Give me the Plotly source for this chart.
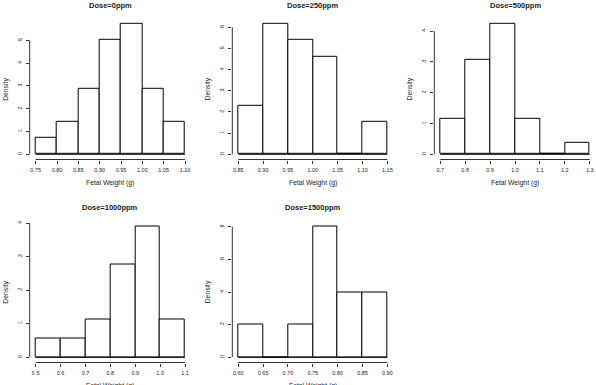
import plotly.graph_objects as go

W, H = 596, 385

# ---- data (density histograms of fetal weight by dose) ----
titles = ["Dose=0ppm", "Dose=250ppm", "Dose=500ppm", "Dose=1000ppm", "Dose=1500ppm"]

breaks_0 = [0.75, 0.80, 0.85, 0.90, 0.95, 1.00, 1.05, 1.10]
dens_0 = [0.714, 1.429, 2.857, 5.000, 5.714, 2.857, 1.429]

breaks_250 = [0.85, 0.90, 0.95, 1.00, 1.05, 1.10, 1.15]
dens_250 = [2.308, 6.154, 5.385, 4.615, 0.0, 1.538]

breaks_500 = [0.7, 0.8, 0.9, 1.0, 1.1, 1.2, 1.3]
dens_500 = [1.154, 3.077, 4.231, 1.154, 0.0, 0.385]

breaks_1000 = [0.5, 0.6, 0.7, 0.8, 0.9, 1.0, 1.1]
dens_1000 = [0.556, 0.556, 1.111, 2.778, 3.889, 1.111]

breaks_1500 = [0.60, 0.65, 0.70, 0.75, 0.80, 0.85, 0.90]
dens_1500 = [2.0, 0.0, 2.0, 8.0, 4.0, 4.0]

xticks_0 = ["0.75", "0.80", "0.85", "0.90", "0.95", "1.00", "1.05", "1.10"]
xticks_250 = ["0.85", "0.90", "0.95", "1.00", "1.05", "1.10", "1.15"]
xticks_500 = ["0.7", "0.8", "0.9", "1.0", "1.1", "1.2", "1.3"]
xticks_1000 = ["0.5", "0.6", "0.7", "0.8", "0.9", "1.0", "1.1"]
xticks_1500 = ["0.60", "0.65", "0.70", "0.75", "0.80", "0.85", "0.90"]

yticks_0 = [0, 1, 2, 3, 4, 5]
yticks_250 = [0, 1, 2, 3, 4, 5, 6]
yticks_500 = [0, 1, 2, 3, 4]
yticks_1000 = [0, 1, 2, 3, 4]
yticks_1500 = [0, 2, 4, 6, 8]

x_label = "Fetal Weight (g)"
y_label = "Density"

panels = [
    (breaks_0, dens_0, xticks_0, yticks_0),
    (breaks_250, dens_250, xticks_250, yticks_250),
    (breaks_500, dens_500, xticks_500, yticks_500),
    (breaks_1000, dens_1000, xticks_1000, yticks_1000),
    (breaks_1500, dens_1500, xticks_1500, yticks_1500),
]

# ---- layout (pixel plot regions) ----
col_px = [(29.7, 191.0), (232.3, 393.3), (434.3, 595.7)]
row_px = [(18.8, 159.5), (221.5, 362.5)]

FONT = "Liberation Sans, Arial, Helvetica, sans-serif"
TXT = "#222222"
AX = "#333333"

fig = go.Figure()
shapes = []
annotations = []

for i, (brk, dens, xt, yt) in enumerate(panels):
    r, c = divmod(i, 3)
    n = i + 1
    xa = "x" if n == 1 else f"x{n}"
    ya = "y" if n == 1 else f"y{n}"
    xkey = "xaxis" if n == 1 else f"xaxis{n}"
    ykey = "yaxis" if n == 1 else f"yaxis{n}"

    left, right = col_px[c]
    top, bot = row_px[r]
    xdom = [left / W, right / W]
    ydom = [1 - bot / H, 1 - top / H]

    centers = [(brk[k] + brk[k + 1]) / 2 for k in range(len(dens))]
    widths = [brk[k + 1] - brk[k] for k in range(len(dens))]

    fig.add_trace(go.Bar(
        x=centers, y=dens, width=widths,
        marker=dict(color="white", line=dict(color="black", width=1)),
        xaxis=xa, yaxis=ya, showlegend=False, hoverinfo="x+y",
    ))

    x0, x1 = brk[0], brk[-1]
    xpad = 0.04 * (x1 - x0)
    ymax = max(dens)
    ypad = 0.04 * ymax
    xvals = [float(v) for v in xt]

    fig.layout[xkey] = dict(
        domain=xdom, range=[x0 - xpad, x1 + xpad], anchor=ya,
        tickmode="array", tickvals=xvals, ticktext=xt,
        ticks="outside", ticklen=3, tickwidth=1, tickcolor=AX,
        showline=False, showgrid=False, zeroline=False,
        tickfont=dict(family=FONT, size=5.5, color=TXT),
        ticklabelstandoff=2,
    )
    fig.layout[ykey] = dict(
        domain=ydom, range=[-ypad, ymax + ypad], anchor=xa,
        tickmode="array", tickvals=yt, ticktext=[str(v) for v in yt],
        ticks="outside", ticklen=3, tickwidth=1, tickcolor=AX,
        showline=False, showgrid=False, zeroline=False,
        tickangle=-90,
        tickfont=dict(family=FONT, size=5.5, color=TXT),
        ticklabelstandoff=2,
    )

    # R-style axis lines spanning first..last tick
    shapes.append(dict(type="line", xref=xa, yref=f"{ya} domain",
                       x0=xvals[0], x1=xvals[-1], y0=0, y1=0,
                       line=dict(color=AX, width=1)))
    shapes.append(dict(type="line", xref=f"{xa} domain", yref=ya,
                       x0=0, x1=0, y0=yt[0], y1=yt[-1],
                       line=dict(color=AX, width=1)))
    # histogram baseline (zero-height bins)
    shapes.append(dict(type="line", xref=xa, yref=ya,
                       x0=x0, x1=x1, y0=0, y1=0,
                       line=dict(color="black", width=1)))

    cx = (left + right) / 2 / W
    annotations.append(dict(text=f"<b>{titles[i]}</b>", x=cx, y=1 - (top - 13.5) / H,
                            xref="paper", yref="paper", showarrow=False,
                            xanchor="center", yanchor="middle",
                            font=dict(family=FONT, size=7.5, color=TXT)))
    annotations.append(dict(text=x_label, x=cx, y=1 - (bot + 23.8) / H,
                            xref="paper", yref="paper", showarrow=False,
                            xanchor="center", yanchor="middle",
                            font=dict(family=FONT, size=6.8, color=TXT)))
    annotations.append(dict(text=y_label, x=(left - 24) / W, y=1 - (top + bot) / 2 / H,
                            xref="paper", yref="paper", showarrow=False,
                            textangle=-90, xanchor="center", yanchor="middle",
                            font=dict(family=FONT, size=6.8, color=TXT)))

fig.update_layout(
    width=W, height=H,
    margin=dict(l=0, r=0, t=0, b=0),
    paper_bgcolor="white", plot_bgcolor="white",
    bargap=0, barmode="overlay",
    shapes=shapes, annotations=annotations,
    font=dict(family=FONT, color=TXT),
)

fig.write_html("out.html")
